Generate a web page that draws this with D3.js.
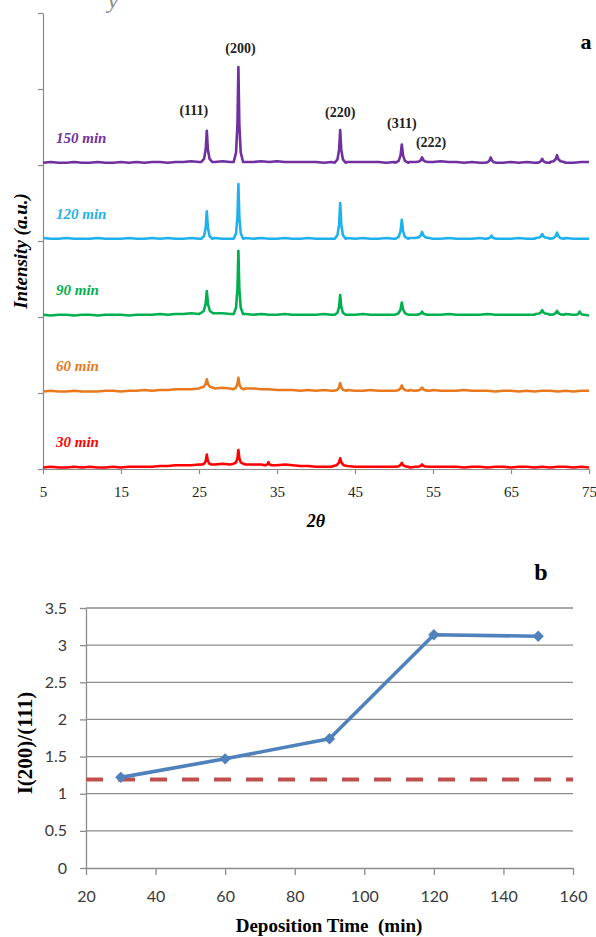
<!DOCTYPE html>
<html>
<head>
<meta charset="utf-8">
<script src="https://cdn.jsdelivr.net/npm/d3@7"></script>
<style>
  body { margin: 0; background: #fff; }
  svg { display: block; }
</style>
</head>
<body>
<svg id="chart" width="596" height="937"></svg>
<script>
// XRD traces (a): baseline read every 1 degree from 5 to 75, peaks as [2theta, height, half width]
const thetaStart = 5;
const thetaTicks = [5, 15, 25, 35, 45, 55, 65, 75];
const offsetTicks = [0, 100, 200, 300, 400, 500, 600];

const series = ["30 min", "60 min", "90 min", "120 min", "150 min"];
const seriesColors = ["#ff0000", "#e8791e", "#00b050", "#1fb1ec", "#7030a0"];
const seriesOffsets = [0, 100, 200, 300, 400];

const base30 = [2,3,2,2,3,2,3,2,2,3,2,3,3,3,3, 4,4,5,5,5,6,6,6,7,6,7,6,6,6,5, 5,6,5,4,4,3,3,3,4,3,3,3,3,3,3, 3,3,2,3,3,3,3,3,3,2,3,3,2,3,3, 2,3,3,2,3,2,3,3,2,3,2];
const base60 = [2,3,2,2,3,2,2,2,3,3,2,3,3,4,3, 4,4,5,5,5,6,7,6,7,6,5,6,6,5,5, 4,4,4,3,4,3,4,3,3,4,3,3,4,3,3, 3,3,4,3,3,4,3,3,3,4,3,3,3,2,3, 3,2,3,2,3,3,2,3,2,3,3];
const base90 = [3,2,3,3,2,3,3,2,3,3,3,2,3,3,3, 4,3,4,4,5,4,5,5,5,4,4,4,3,4,3, 3,4,3,3,3,3,4,3,3,3,3,4,3,3,3, 3,3,3,4,3,3,3,4,3,3,3,3,4,3,3, 3,3,3,3,4,3,3,4,3,3,2];
const base120 = [4,3,3,4,3,3,3,4,3,3,3,4,3,3,4, 3,4,3,3,4,3,3,4,3,3,3,4,3,4,3, 3,4,3,3,4,3,3,3,3,4,3,4,3,3,4, 3,3,4,3,4,3,3,4,3,3,3,4,4,3,3, 3,4,3,3,4,3,3,4,3,3,3];
const base150 = [3,4,3,3,4,3,3,4,3,3,4,3,4,3,4, 4,3,4,4,5,4,4,4,5,4,4,4,4,5,4, 5,4,4,4,4,4,3,4,3,4,4,4,4,4,3, 4,3,4,4,4,4,5,4,4,3,4,3,3,4,3, 4,3,4,3,3,3,4,3,3,4,4];

const peaks30 = [[26.0,13,0.6],[30.05,18,0.6],[33.9,4,0.5],[43.1,10,0.9],[51.0,5,0.9],[53.6,3,0.8]];
const peaks60 = [[26.0,11,0.8],[30.05,15,0.7],[43.1,10,0.8],[51.0,7,0.9],[53.6,4,1.0]];
const peaks90 = [[26.0,29,0.8],[30.05,83,0.6],[43.1,26,0.7],[51.0,16,0.9],[53.6,4,0.8],[69.0,5,0.8],[70.9,5,0.9],[73.8,4,0.6]];
const peaks120 = [[26.0,36,0.7],[30.05,72,0.6],[43.1,47,0.7],[51.0,25,0.8],[53.6,8,0.9],[62.5,4,0.8],[69.0,5,0.8],[70.9,8,0.9]];
const peaks150 = [[26.0,41,0.7],[30.05,125,0.6],[43.1,43,0.7],[51.0,24,0.8],[53.6,6,0.8],[62.4,7,0.8],[69.0,5,0.8],[70.9,9,0.9]];

const bases = [base30, base60, base90, base120, base150];
const peaks = [peaks30, peaks60, peaks90, peaks120, peaks150];

// shape of one reflection, x in half widths, y in peak height
const peakShape = [[-1,0],[-0.5,0.1],[-0.2,0.4],[0,1],[0.2,0.4],[0.5,0.1],[1,0]];

const hkl = ["(111)", "(200)", "(220)", "(311)", "(222)"];
const hklTheta = [26.0, 30.05, 43.1, 51.0, 53.6];
const hklLevel = [466, 547, 463, 449, 424];
const hklShift = [-13, 2, 0, 0, 9];

// ratio (b)
const depTime = [30, 60, 90, 120, 150];
const ratio = [1.22, 1.47, 1.74, 3.14, 3.12];
const ratioRef = 1.19;
const ratioTicks = [0, 0.5, 1, 1.5, 2, 2.5, 3, 3.5];
const timeTicks = [20, 40, 60, 80, 100, 120, 140, 160];

const svg = d3.select("#chart");
const serif = "'Liberation Serif', 'DejaVu Serif', serif";

// ---------- panel a ----------
const x1 = d3.scaleLinear().domain([5, 75]).range([43, 589]);
const y1 = d3.scaleLinear().domain([0, 600]).range([469, 13]);

function tracePoints(base, pk) {
  const pts = [];
  base.forEach((v, i) => {
    const t = thetaStart + i;
    if (!pk.some(p => Math.abs(t - p[0]) < p[2])) pts.push([t, v]);
  });
  pk.forEach(p => {
    const b = base[Math.round(p[0]) - thetaStart];
    peakShape.forEach(s => pts.push([p[0] + s[0] * p[2], b + s[1] * p[1]]));
  });
  return pts.sort((a, b) => a[0] - b[0]);
}

const axA = svg.append("g").attr("transform", "translate(43,0)")
  .call(d3.axisLeft(y1).tickValues(offsetTicks).tickSize(5).tickSizeOuter(0).tickFormat(""));
const axAx = svg.append("g").attr("transform", "translate(0,469)")
  .call(d3.axisBottom(x1).tickValues(thetaTicks).tickSize(5).tickSizeOuter(0).tickPadding(12));
[axA, axAx].forEach(g => {
  g.select(".domain").attr("stroke", "#8a8a8a").attr("stroke-width", 1.2);
  g.selectAll(".tick line").attr("stroke", "#8a8a8a").attr("stroke-width", 1.2);
});
axAx.selectAll("text").attr("font-family", serif).attr("font-size", 15).attr("fill", "#222");

const line1 = d3.line().x(d => x1(d[0])).y(d => y1(d[1]));
series.forEach((name, i) => {
  const off = seriesOffsets[i];
  svg.append("path")
    .datum(tracePoints(bases[i], peaks[i]).map(d => [d[0], d[1] + off]))
    .attr("d", line1)
    .attr("fill", "none")
    .attr("stroke", seriesColors[i])
    .attr("stroke-width", 2.6)
    .attr("stroke-linejoin", "round");
  svg.append("text")
    .attr("x", 56).attr("y", y1(off) - 22)
    .attr("font-family", serif).attr("font-size", 15)
    .attr("font-style", "italic").attr("font-weight", "bold")
    .attr("fill", seriesColors[i])
    .text(name);
});

hkl.forEach((h, i) => {
  svg.append("text")
    .attr("x", x1(hklTheta[i]) + hklShift[i]).attr("y", y1(hklLevel[i]))
    .attr("text-anchor", "middle")
    .attr("font-family", serif).attr("font-size", 14).attr("font-weight", "bold")
    .attr("fill", "#222")
    .text(h);
});

svg.append("text").attr("x", 586).attr("y", 49).attr("text-anchor", "middle")
  .attr("font-family", serif).attr("font-size", 22).attr("font-weight", "bold").text("a");
// tail of a caption cut by the top edge, as in the source
svg.append("text").attr("x", 113).attr("y", 8).attr("text-anchor", "middle")
  .attr("font-family", serif).attr("font-size", 24).attr("font-style", "italic")
  .attr("fill", "#8a8a8a").text("y");

svg.append("text")
  .attr("transform", "translate(27,251) rotate(-90)")
  .attr("text-anchor", "middle")
  .attr("font-family", serif).attr("font-size", 19)
  .attr("font-style", "italic").attr("font-weight", "bold")
  .text("Intensity (a.u.)");
svg.append("text")
  .attr("x", 316).attr("y", 527).attr("text-anchor", "middle")
  .attr("font-family", serif).attr("font-size", 18)
  .attr("font-style", "italic").attr("font-weight", "bold")
  .text("2θ");

// ---------- panel b ----------
const x2 = d3.scaleLinear().domain([20, 160]).range([86, 573]);
const y2 = d3.scaleLinear().domain([0, 3.5]).range([868, 608]);

svg.append("g").selectAll("line")
  .data(ratioTicks.filter(v => v > 0))
  .join("line")
  .attr("x1", 86).attr("x2", 573)
  .attr("y1", d => y2(d)).attr("y2", d => y2(d))
  .attr("stroke", "#8c8c8c").attr("stroke-width", 1.3);

const axBy = svg.append("g").attr("transform", "translate(86,0)")
  .call(d3.axisLeft(y2).tickValues(ratioTicks).tickSize(6).tickSizeOuter(0).tickPadding(13)
    .tickFormat(d => String(d)));
const axBx = svg.append("g").attr("transform", "translate(0,868)")
  .call(d3.axisBottom(x2).tickValues(timeTicks).tickSize(7).tickSizeOuter(0).tickPadding(16));
[axBy, axBx].forEach(g => {
  g.select(".domain").attr("stroke", "#8c8c8c").attr("stroke-width", 1.3);
  g.selectAll(".tick line").attr("stroke", "#8c8c8c").attr("stroke-width", 1.3);
  g.selectAll("text").attr("font-family", "Lato, 'Open Sans', sans-serif")
    .attr("font-size", 16).attr("fill", "#3a3a3a");
});

svg.append("line")
  .attr("x1", x2(20)).attr("x2", x2(160))
  .attr("y1", y2(ratioRef)).attr("y2", y2(ratioRef))
  .attr("stroke", "#c0504d").attr("stroke-width", 4)
  .attr("stroke-dasharray", "17,15");

const pts = depTime.map((t, i) => [t, ratio[i]]);
svg.append("path")
  .datum(pts)
  .attr("d", d3.line().x(d => x2(d[0])).y(d => y2(d[1])))
  .attr("fill", "none").attr("stroke", "#4f81bd").attr("stroke-width", 3.6)
  .attr("stroke-linejoin", "round");
svg.append("g").selectAll("path")
  .data(pts)
  .join("path")
  .attr("d", d3.symbol(d3.symbolSquare, 64))
  .attr("transform", d => `translate(${x2(d[0])},${y2(d[1])}) rotate(45)`)
  .attr("fill", "#4f81bd");

svg.append("text").attr("x", 541).attr("y", 580).attr("text-anchor", "middle")
  .attr("font-family", serif).attr("font-size", 24).attr("font-weight", "bold").text("b");

svg.append("text")
  .attr("transform", "translate(32,743) rotate(-90)")
  .attr("text-anchor", "middle")
  .attr("font-family", serif).attr("font-size", 21).attr("font-weight", "bold")
  .text("I(200)/(111)");
svg.append("text")
  .attr("x", 329).attr("y", 932).attr("text-anchor", "middle")
  .attr("font-family", serif).attr("font-size", 19).attr("font-weight", "bold")
  .attr("xml:space", "preserve")
  .text("Deposition Time  (min)");
</script>
</body>
</html>
